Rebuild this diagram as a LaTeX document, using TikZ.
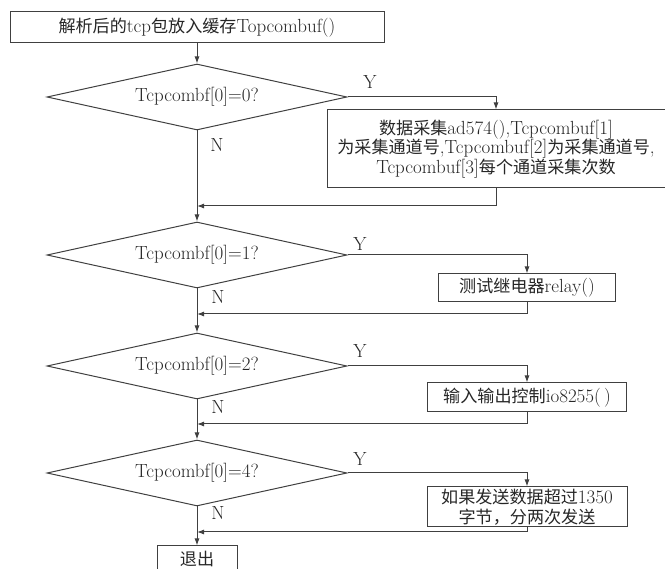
\documentclass[tikz,border=0pt]{standalone}
\usepackage{fontspec}
\usepackage{tikz}
\usetikzlibrary{arrows.meta,shapes.geometric}
\newfontfamily\cjk[Scale=0.9]{Noto Sans CJK SC}
\newcommand{\zh}[1]{{\cjk #1}}

\begin{document}
\begin{tikzpicture}[
  x=1pt, y=-1pt,
  font=\fontsize{19}{19.5}\selectfont,
  proc/.style={rectangle, draw=black!75, line width=1pt, align=center,
               inner sep=0pt, text=black!85},
  test/.style={diamond, draw=black!75, line width=1pt, aspect=4, inner sep=0pt,
               minimum width=300pt, minimum height=66pt, text=black!85},
  edge/.style={draw=black!75, line width=1pt, -{Latex[length=7pt,width=5pt]}},
  lbl/.style={text=black!85}
]
  \useasboundingbox (0,0) rectangle (665,569);

  \node[proc, minimum width=374pt, minimum height=31pt] (start) at (197,27.5)
    {\zh{解析后的}tcp\zh{包放入缓存}Topcombuf()};

  \node[test] (t0) at (197,97) {Tcpcombf[0]=0?};
  \node[proc, minimum width=338pt, minimum height=78pt] (b0) at (496,149)
    {\zh{数据采集}ad574(),Tcpcombuf[1]\\\zh{为采集通道号},Tcpcombuf[2]\zh{为采集通道号},\\Tcpcombuf[3]\zh{每个通道采集次数}};
  \coordinate (r0) at (197,206);
  \node[lbl] (y0) at (370,82) {Y};
  \node[lbl] (n0) at (217,145) {N};

  \node[test] (t1) at (197,255) {Tcpcombf[0]=1?};
  \node[proc, minimum width=177pt, minimum height=28pt] (b1) at (527,288)
    {\zh{测试继电器}relay()};
  \coordinate (r1) at (197,314);
  \node[lbl] (y1) at (360,244) {Y};
  \node[lbl] (n1) at (218,297) {N};

  \node[test] (t2) at (197,366) {Tcpcombf[0]=2?};
  \node[proc, minimum width=199pt, minimum height=29pt] (b2) at (527,397.5)
    {\zh{输入输出控制}io8255(\,)};
  \coordinate (r2) at (197,424);
  \node[lbl] (y2) at (360,351) {Y};
  \node[lbl] (n2) at (218,407) {N};

  \node[test] (t3) at (197,473) {Tcpcombf[0]=4?};
  \node[proc, minimum width=200pt, minimum height=40pt] (b3) at (527,507)
    {\zh{如果发送数据超过}1350\\\zh{字节，分两次发送}};
  \coordinate (r3) at (197,532);
  \node[lbl] (y3) at (360,459) {Y};
  \node[lbl] (n3) at (218,513) {N};

  \node[proc, minimum width=80pt, minimum height=26pt] (stop) at (197,559) {\zh{退出}};

  \draw[edge] (start) -- (t0);
  \draw[edge] (t0.east) -| (b0.north);
  \draw[edge] (b0.south) |- (r0);
  \draw[edge] (t0.south) -- (t1.north);
  \draw[edge] (t1.east) -| (b1.north);
  \draw[edge] (b1.south) |- (r1);
  \draw[edge] (t1.south) -- (t2.north);
  \draw[edge] (t2.east) -| (b2.north);
  \draw[edge] (b2.south) |- (r2);
  \draw[edge] (t2.south) -- (t3.north);
  \draw[edge] (t3.east) -| (b3.north);
  \draw[edge] (b3.south) |- (r3);
  \draw[edge] (t3.south) -- (stop);
\end{tikzpicture}
\end{document}
